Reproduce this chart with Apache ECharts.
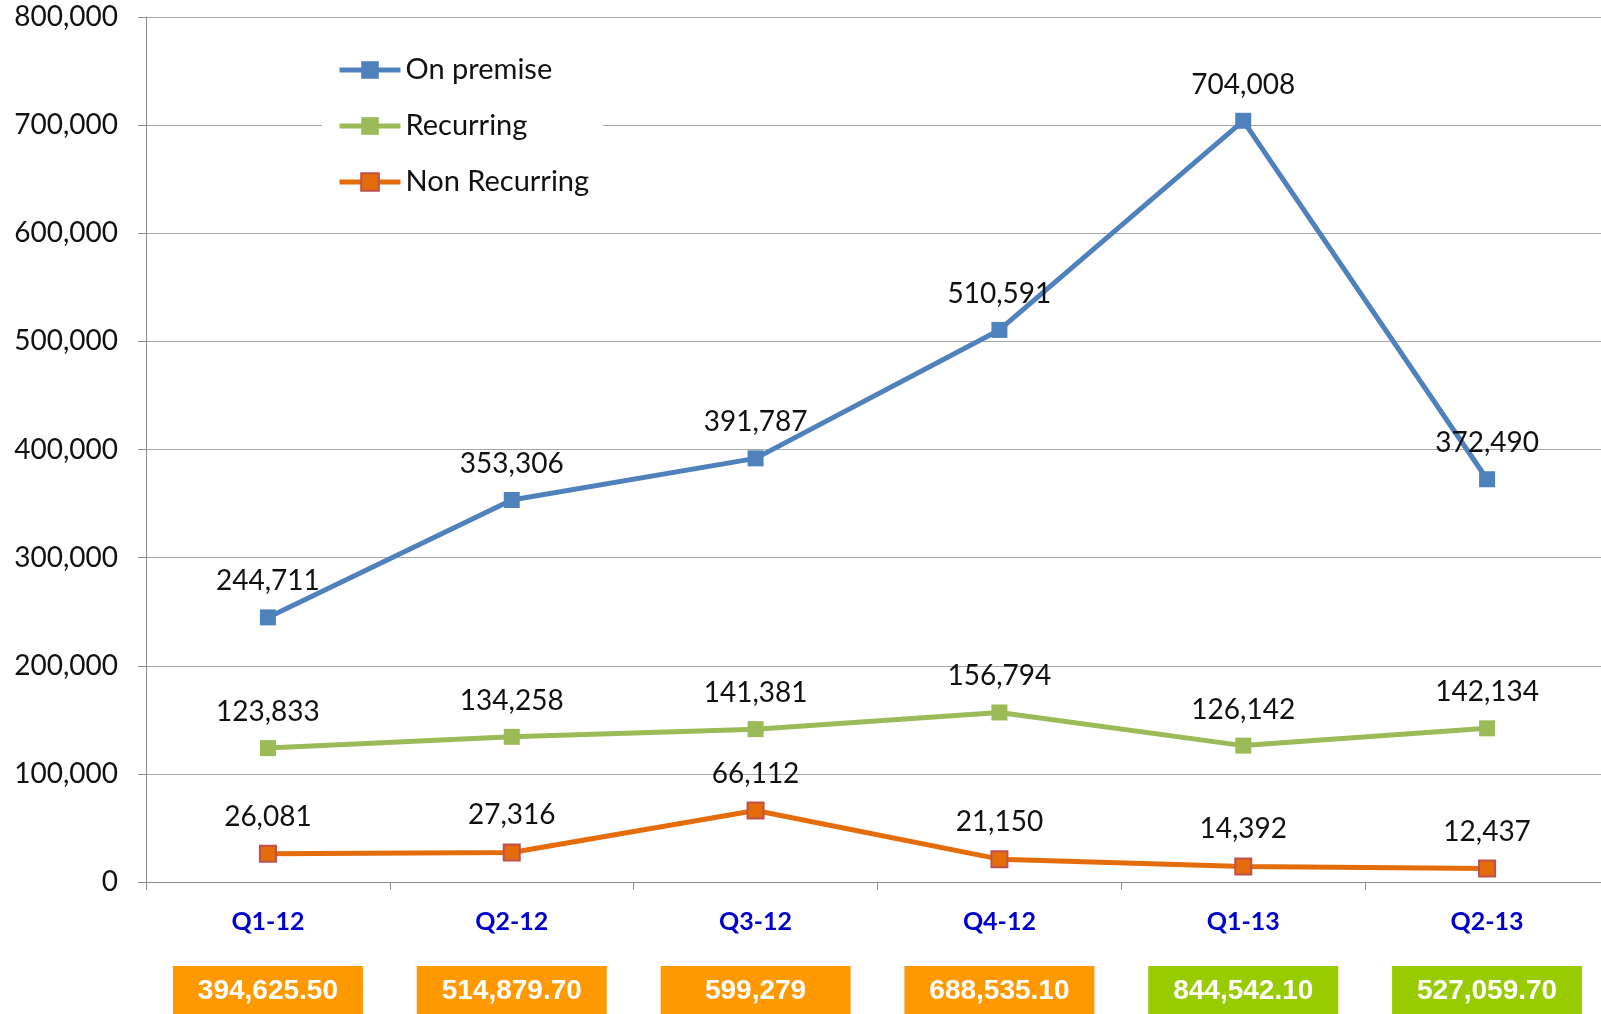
<!DOCTYPE html>
<html>
<head>
<meta charset="utf-8">
<script src="https://cdn.jsdelivr.net/npm/echarts@6/dist/echarts.min.js"></script>
<style>
  html, body { margin: 0; padding: 0; background: #fff; }
  #main { width: 1601px; height: 1014px; }
</style>
</head>
<body>
<div id="main"></div>
<script>
var categories = ['Q1-12', 'Q2-12', 'Q3-12', 'Q4-12', 'Q1-13', 'Q2-13'];
var onPremise = [244711, 353306, 391787, 510591, 704008, 372490];
var recurring = [123833, 134258, 141381, 156794, 126142, 142134];
var nonRecurring = [26081, 27316, 66112, 21150, 14392, 12437];
var totalLabels = ['394,625.50', '514,879.70', '599,279', '688,535.10', '844,542.10', '527,059.70'];

function fmt(v) {
    return String(v).replace(/\B(?=(\d{3})+(?!\d))/g, ',');
}

var font = 'Lato, "Open Sans", sans-serif';

function lineSeries(name, data, color, markerColor, borderColor) {
    return {
        name: name,
        type: 'line',
        data: data,
        symbol: 'rect',
        symbolSize: 16,
        lineStyle: { color: color, width: 5 },
        itemStyle: { color: markerColor, borderColor: borderColor, borderWidth: borderColor ? 2 : 0 },
        label: {
            show: true,
            position: 'top',
            distance: 14,
            formatter: function (p) { return fmt(p.value); },
            fontFamily: font,
            fontSize: 28,
            color: '#111'
        },
        emphasis: { disabled: true },
        z: 3
    };
}

var myChart = echarts.init(document.getElementById('main'));

var option = {
    animation: false,
    backgroundColor: '#fff',
    grid: { left: 146, right: -8, top: 17, bottom: 132, outerBoundsMode: 'none' },
    legend: {
        orient: 'vertical',
        left: 322,
        top: 40,
        padding: [15, 14, 15, 15],
        backgroundColor: '#fff',
        itemWidth: 61,
        itemHeight: 22,
        itemGap: 26,
        lineStyle: { width: 5 },
        textStyle: { fontFamily: font, fontSize: 29, color: '#111', height: 30, lineHeight: 30 },
        data: ['On premise', 'Recurring', 'Non Recurring'],
        z: 10
    },
    xAxis: [{
        type: 'category',
        data: categories,
        axisLine: { lineStyle: { color: '#8c8c8c', width: 1 } },
        axisTick: { show: true, length: 8, lineStyle: { color: '#8c8c8c' } },
        axisLabel: {
            interval: 0,
            margin: 27,
            fontFamily: font,
            fontSize: 25,
            fontWeight: 'bold',
            color: '#0000cc'
        }
    }, {
        type: 'category',
        data: categories,
        position: 'bottom',
        offset: 84,
        axisLine: { show: false },
        axisTick: { show: false },
        axisLabel: {
            interval: 0,
            margin: 0,
            formatter: function (v, i) {
                return '{' + (v.slice(-2) === '13' ? 'g' : 'o') + '|' + totalLabels[i] + '}';
            },
            rich: {
                o: {
                    backgroundColor: '#ff9900', color: '#fff', width: 190, height: 50, lineHeight: 50,
                    align: 'center', fontFamily: '"Liberation Sans Narrow", "Liberation Sans", Arial, sans-serif',
                    fontSize: 28, fontWeight: 'bold'
                },
                g: {
                    backgroundColor: '#99cc00', color: '#fff', width: 190, height: 50, lineHeight: 50,
                    align: 'center', fontFamily: '"Liberation Sans Narrow", "Liberation Sans", Arial, sans-serif',
                    fontSize: 28, fontWeight: 'bold'
                }
            }
        }
    }],
    yAxis: {
        type: 'value',
        min: 0,
        max: 800000,
        interval: 100000,
        axisLine: { show: true, lineStyle: { color: '#8c8c8c', width: 1 } },
        axisTick: { show: true, length: 8, lineStyle: { color: '#8c8c8c' } },
        splitLine: { lineStyle: { color: '#a6a6a6', width: 1 } },
        axisLabel: {
            margin: 28,
            formatter: function (v) { return fmt(v); },
            fontFamily: font,
            fontSize: 28,
            color: '#111'
        }
    },
    series: [
        lineSeries('On premise', onPremise, '#4f81bd', '#4f81bd', null),
        lineSeries('Recurring', recurring, '#9bbb59', '#9bbb59', null),
        lineSeries('Non Recurring', nonRecurring, '#e46c0a', '#e46c0a', '#c0504d')
    ]
};

myChart.setOption(option);
</script>
</body>
</html>
